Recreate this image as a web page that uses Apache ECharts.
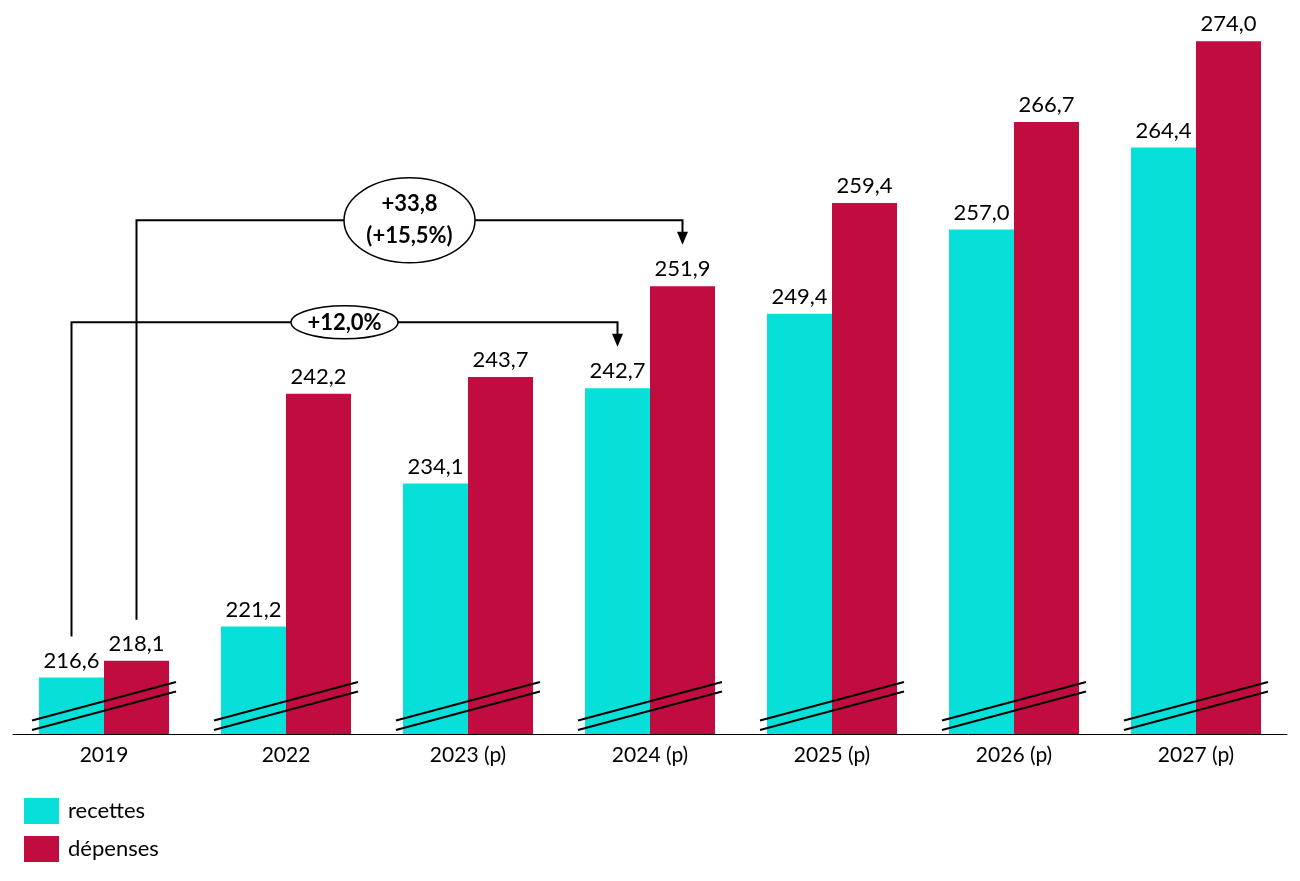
<!DOCTYPE html>
<html>
<head>
<meta charset="utf-8">
<script src="https://cdn.jsdelivr.net/npm/echarts@6/dist/echarts.min.js"></script>
<style>html,body{margin:0;padding:0;background:#fff}#c{width:1300px;height:881px}</style>
</head>
<body>
<div id="c"></div>
<script>
const categories = ['2019', '2022', '2023 (p)', '2024 (p)', '2025 (p)', '2026 (p)', '2027 (p)'];
const recettes = [216.6, 221.2, 234.1, 242.7, 249.4, 257.0, 264.4];
const depenses = [218.1, 242.2, 243.7, 251.9, 259.4, 266.7, 274.0];
const seriesNames = ['recettes', 'dépenses'];
// annotations: [fromCategory, fromSeries, toCategory, toSeries, label]
const annotations = [
  [0, 0, 3, 0, '+12,0%'],
  [0, 1, 3, 1, '+33,8\n(+15,5%)']
];
const yMin = 211.5, yMax = 276;

const FONT = 'Lato, "Open Sans", sans-serif';
const COLORS = ['#06E0D8', '#C00C3E'];
const BAR_W = 65;
const seriesData = [recettes, depenses];
const fmt = v => v.toFixed(1).replace('.', ',');

const chart = echarts.init(document.getElementById('c'), null, {renderer: 'canvas'});

function breakRender(params, api) {
  const p = api.coord([api.value(0), yMin]);
  const x = p[0], y = p[1];
  const st = {stroke: '#000', lineWidth: 2};
  return {
    type: 'group',
    children: [
      {type: 'line', shape: {x1: x - 72, y1: y - 13.5, x2: x + 72, y2: y - 52}, style: st},
      {type: 'line', shape: {x1: x - 72, y1: y - 4, x2: x + 72, y2: y - 42.5}, style: st}
    ]
  };
}

function annRender(params, api) {
  const a = annotations[params.dataIndex];
  const off = s => (s === 0 ? -BAR_W / 2 : BAR_W / 2);
  const fromTop = api.coord([a[0], seriesData[a[1]][a[0]]]);
  const toTop = api.coord([a[2], seriesData[a[3]][a[2]]]);
  const x1 = fromTop[0] + off(a[1]);
  const y1 = fromTop[1] - 41;
  const x2 = toTop[0] + off(a[3]);
  const yTip = toTop[1] - 41.5;
  const yLevel = toTop[1] - 65.8;
  const cx = (x1 + x2) / 2;
  const twoLines = a[4].indexOf('\n') >= 0;
  const rx = twoLines ? 65.5 : 53.5;
  const ry = twoLines ? 42.5 : 16.5;
  const st = {stroke: '#000', lineWidth: 2, fill: null};
  return {
    type: 'group',
    children: [
      {type: 'polyline', shape: {points: [[x1, y1], [x1, yLevel], [x2, yLevel], [x2, yTip - 12]]}, style: st},
      {type: 'polygon', shape: {points: [[x2 - 5.5, yTip - 13], [x2 + 5.5, yTip - 13], [x2, yTip]]}, style: {fill: '#000'}},
      {type: 'ellipse', shape: {cx: cx, cy: yLevel, rx: rx, ry: ry}, style: {stroke: '#000', lineWidth: 1.5, fill: '#fff'}},
      {type: 'text', style: {text: a[4], x: cx, y: yLevel + (twoLines ? 0 : 1), align: 'center', verticalAlign: 'middle',
        font: 'bold 22px ' + FONT, lineHeight: 32, fill: '#000'}}
    ]
  };
}

chart.setOption({
  animation: false,
  backgroundColor: '#fff',
  grid: {left: 13, right: 13, top: 19, bottom: 147},
  legend: {
    data: seriesNames,
    orient: 'vertical',
    left: 19,
    top: 793,
    itemWidth: 35,
    itemHeight: 26,
    itemGap: 12,
    icon: 'rect',
    textStyle: {fontFamily: FONT, fontSize: 22, color: '#000', padding: [0, 0, 0, 4]}
  },
  xAxis: {
    type: 'category',
    data: categories,
    axisLine: {lineStyle: {color: '#000', width: 1}},
    axisTick: {show: false},
    axisLabel: {fontFamily: FONT, fontSize: 21, color: '#000', margin: 11}
  },
  yAxis: {
    type: 'value', min: yMin, max: yMax, show: false, splitLine: {show: false}
  },
  series: [
    {
      name: seriesNames[0], type: 'bar', data: recettes, barWidth: BAR_W, barGap: '0%',
      itemStyle: {color: COLORS[0]},
      label: {show: true, position: 'top', distance: 6, fontFamily: FONT, fontSize: 22, color: '#000', formatter: p => fmt(p.value)}
    },
    {
      name: seriesNames[1], type: 'bar', data: depenses, barWidth: BAR_W, barGap: '0%',
      itemStyle: {color: COLORS[1]},
      label: {show: true, position: 'top', distance: 6, fontFamily: FONT, fontSize: 22, color: '#000', formatter: p => fmt(p.value)}
    },
    {
      type: 'custom', name: 'breaks', renderItem: breakRender, z: 5, silent: true,
      data: categories.map((c, i) => [i, yMin]), encode: {x: 0, y: 1}
    },
    {
      type: 'custom', name: 'annotations', renderItem: annRender, z: 6, silent: true,
      data: annotations.map(a => [a[0], yMin]), encode: {x: 0, y: 1}
    }
  ]
});
</script>
</body>
</html>
